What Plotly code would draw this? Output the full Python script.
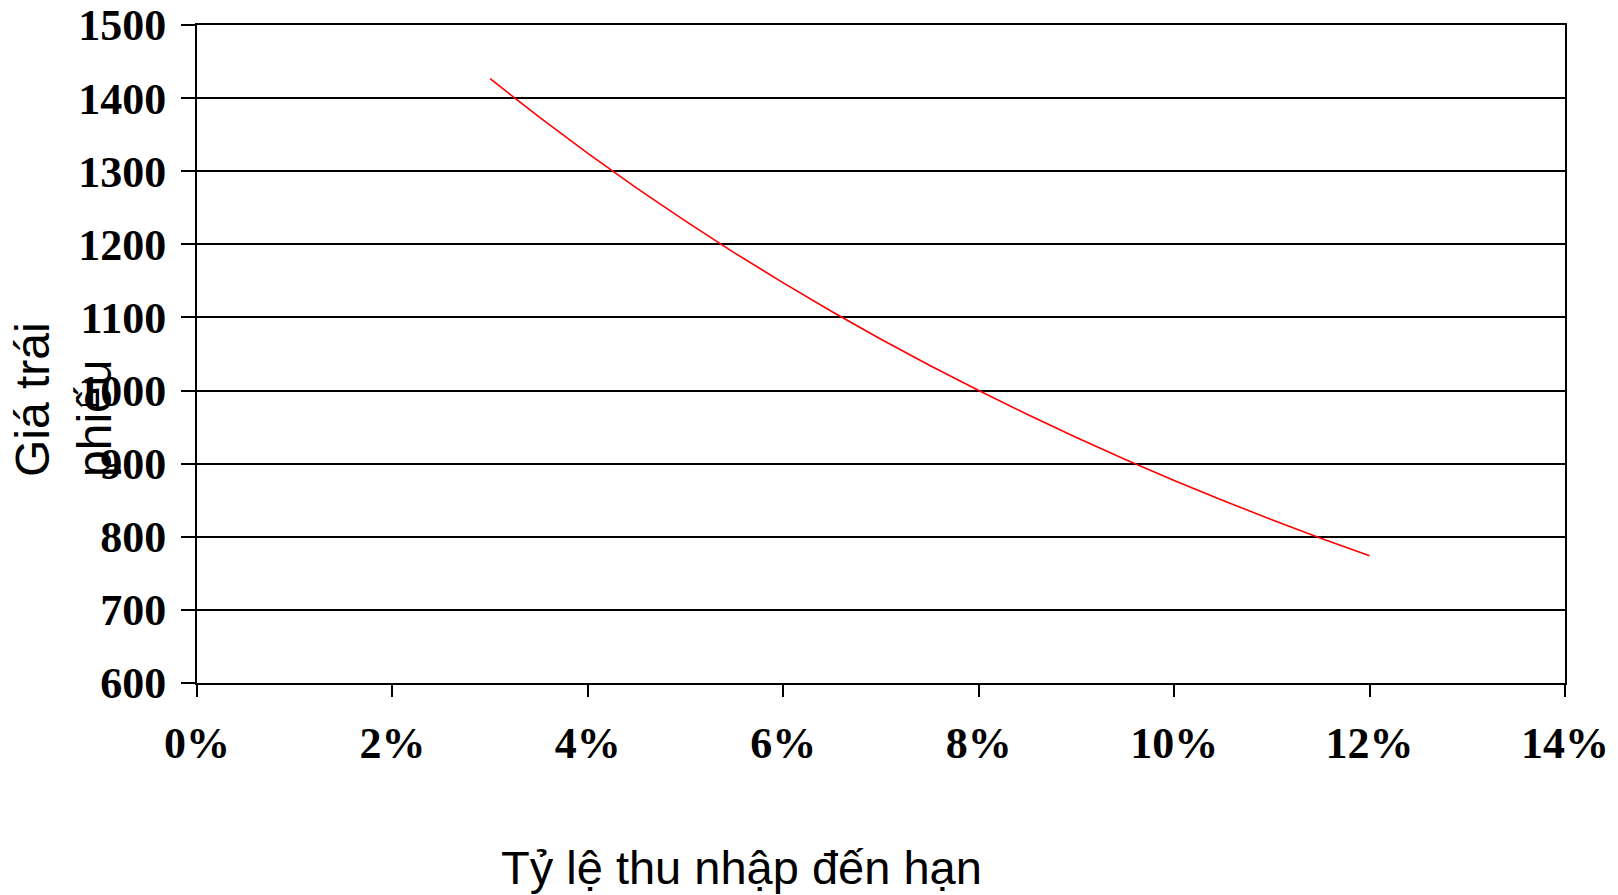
import plotly.graph_objects as go

# Yield to maturity (fraction) and corresponding bond price
yields = [0.03, 0.035, 0.04, 0.045, 0.05, 0.055, 0.06, 0.065, 0.07, 0.075,
          0.08, 0.085, 0.09, 0.095, 0.10, 0.105, 0.11, 0.115, 0.12]
prices = [1426.5, 1374.2, 1324.4, 1276.9, 1231.7, 1188.4, 1147.2, 1107.8,
          1070.2, 1034.3, 1000.0, 967.2, 935.8, 905.8, 877.1, 849.6, 823.3,
          798.1, 774.0]

y_ticks = [600, 700, 800, 900, 1000, 1100, 1200, 1300, 1400, 1500]
x_ticks = [0, 0.02, 0.04, 0.06, 0.08, 0.10, 0.12, 0.14]

x_title = "Tỷ lệ thu nhập đến hạn"
y_title = "Giá trái<br>phiếu"

tick_font = dict(family="Liberation Serif, Times New Roman, serif", size=44,
                 color="black", weight="bold")
title_font = dict(family="Liberation Sans, Arial, sans-serif", color="black")

fig = go.Figure()
fig.add_trace(go.Scatter(x=yields, y=prices, mode="lines",
                         line=dict(color="#ff0000", width=1.6),
                         showlegend=False, hoverinfo="x+y"))

fig.update_layout(
    width=1618, height=895,
    margin=dict(l=197, r=53, t=25, b=212),
    paper_bgcolor="white", plot_bgcolor="white",
    xaxis=dict(range=[0, 0.14], tickvals=x_ticks, tickformat=".0%",
               showgrid=False, zeroline=False, automargin=False,
               showline=True, linecolor="black", linewidth=2, mirror=True,
               ticks="outside", ticklen=12, tickwidth=2, tickcolor="black",
               tickfont=tick_font, ticklabelstandoff=8),
    yaxis=dict(range=[600, 1500], tickvals=y_ticks, automargin=False,
               showgrid=True, gridcolor="black", gridwidth=2, zeroline=False,
               showline=True, linecolor="black", linewidth=2, mirror=True,
               ticks="outside", ticklen=14, tickwidth=2, tickcolor="black",
               tickfont=tick_font, ticklabelstandoff=6),
)

fig.add_annotation(text=x_title, xref="paper", yref="paper",
                   x=(741 - 197) / (1565 - 197), y=-(867 - 683) / (683 - 25),
                   xanchor="center", yanchor="middle", showarrow=False,
                   font=dict(size=47, **title_font))
fig.add_annotation(text=y_title, xref="paper", yref="paper",
                   x=-(197 - 64) / (1565 - 197), y=(683 - 400) / (683 - 25),
                   xanchor="center", yanchor="middle", showarrow=False,
                   textangle=-90, align="left",
                   font=dict(size=48, **title_font))

fig.write_html("out.html")
